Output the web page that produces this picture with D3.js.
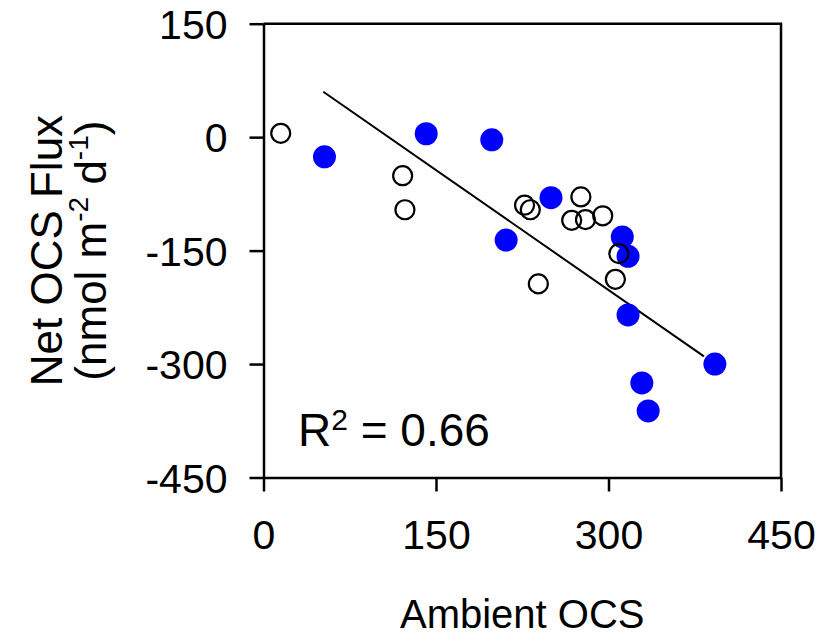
<!DOCTYPE html>
<html>
<head>
<meta charset="utf-8">
<script src="https://cdn.jsdelivr.net/npm/d3@7"></script>
<style>
  body { margin: 0; background: #fff; }
  text { font-family: "Liberation Sans", Arial, sans-serif; fill: #000; }
</style>
</head>
<body>
<svg id="chart"></svg>
<script>
// open circles
const openX = [15, 121, 123, 227, 232, 276, 268, 280, 295, 309, 306, 239];
const openY = [5, -51, -96, -90, -96, -79, -110, -109, -104, -154, -188, -194];
// filled blue circles
const fillX = [53, 141.5, 198.5, 250, 211, 312, 317, 317, 392.5, 329, 334.5];
const fillY = [-26, 4.5, -3.5, -80, -136, -132, -157.5, -235, -300, -325, -362];
// regression line
const fitRange = [52, 383];
const fitSlope = -1.057;
const fitIntercept = 115;
const xTicks = [0, 150, 300, 450];
const yTicks = [150, 0, -150, -300, -450];

const width = 821, height = 637;
const margin = {left: 263.5, right: 40, top: 23.7, bottom: 159.5};

const svg = d3.select('#chart')
              .attr('width', width)
              .attr('height', height);

const x = d3.scaleLinear()
            .domain([0, 450])
            .range([margin.left, width - margin.right]);

const y = d3.scaleLinear()
            .domain([-450, 150])
            .range([height - margin.bottom, margin.top]);

// frame (top and right)
svg.append('path')
    .attr('d', 'M' + x(0) + ',' + y(150) + 'H' + x(450) + 'V' + y(-450))
    .attr('fill', 'none')
    .attr('stroke', '#000')
    .attr('stroke-width', 2.5);

const fmt = d => String(d);

const xAxis = svg.append('g')
    .attr('transform', 'translate(0,' + y(-450) + ')')
    .call(d3.axisBottom(x).tickValues(xTicks).tickFormat(fmt)
            .tickSize(14).tickPadding(28).tickSizeOuter(0));

const yAxis = svg.append('g')
    .attr('transform', 'translate(' + x(0) + ',0)')
    .call(d3.axisLeft(y).tickValues(yTicks).tickFormat(fmt)
            .tickSize(14).tickPadding(22).tickSizeOuter(0));

[xAxis, yAxis].forEach(ax => {
  ax.select('.domain').attr('stroke-width', 2.5);
  ax.selectAll('.tick line').attr('stroke-width', 2.5);
  ax.selectAll('.tick text')
      .attr('font-size', 41)
      .attr('font-family', '"Liberation Sans", Arial, sans-serif');
});
xAxis.selectAll('.tick text').attr('dy', '0.71em');
yAxis.selectAll('.tick text').attr('dy', '0.36em');

// fit line
svg.append('line')
    .attr('x1', x(fitRange[0]))
    .attr('y1', y(fitIntercept + fitSlope * fitRange[0]))
    .attr('x2', x(fitRange[1]))
    .attr('y2', y(fitIntercept + fitSlope * fitRange[1]))
    .attr('stroke', '#000')
    .attr('stroke-width', 2);

svg.append('g')
    .selectAll('circle')
    .data(fillX.map((d, i) => [d, fillY[i]]))
    .enter()
    .append('circle')
    .attr('cx', d => x(d[0]))
    .attr('cy', d => y(d[1]))
    .attr('r', 11.5)
    .attr('fill', '#0000ff');

svg.append('g')
    .selectAll('circle')
    .data(openX.map((d, i) => [d, openY[i]]))
    .enter()
    .append('circle')
    .attr('cx', d => x(d[0]))
    .attr('cy', d => y(d[1]))
    .attr('r', 9.5)
    .attr('fill', 'none')
    .attr('stroke', '#000')
    .attr('stroke-width', 2.2);

// R squared
const r2 = svg.append('text')
    .attr('x', 298)
    .attr('y', 446)
    .attr('font-size', 46);
r2.append('tspan').text('R');
r2.append('tspan').attr('font-size', 30).attr('dy', -16).text('2');
r2.append('tspan').attr('dy', 16).text(' = 0.66');

// axis titles
svg.append('text')
    .attr('x', x(225))
    .attr('y', 628)
    .attr('font-size', 40)
    .style('text-anchor', 'middle')
    .text('Ambient OCS');

const cy = (y(150) + y(-450)) / 2;
svg.append('text')
    .attr('transform', 'translate(62,' + cy + ') rotate(-90)')
    .attr('font-size', 44)
    .style('text-anchor', 'middle')
    .text('Net OCS Flux');

const t2 = svg.append('text')
    .attr('transform', 'translate(106,' + cy + ') rotate(-90)')
    .attr('font-size', 44)
    .style('text-anchor', 'middle');
t2.append('tspan').text('(nmol m');
t2.append('tspan').attr('font-size', 28).attr('dy', -18).text('-2');
t2.append('tspan').attr('dy', 18).text(' d');
t2.append('tspan').attr('font-size', 28).attr('dy', -18).text('-1');
t2.append('tspan').attr('dy', 18).text(')');
</script>
</body>
</html>
